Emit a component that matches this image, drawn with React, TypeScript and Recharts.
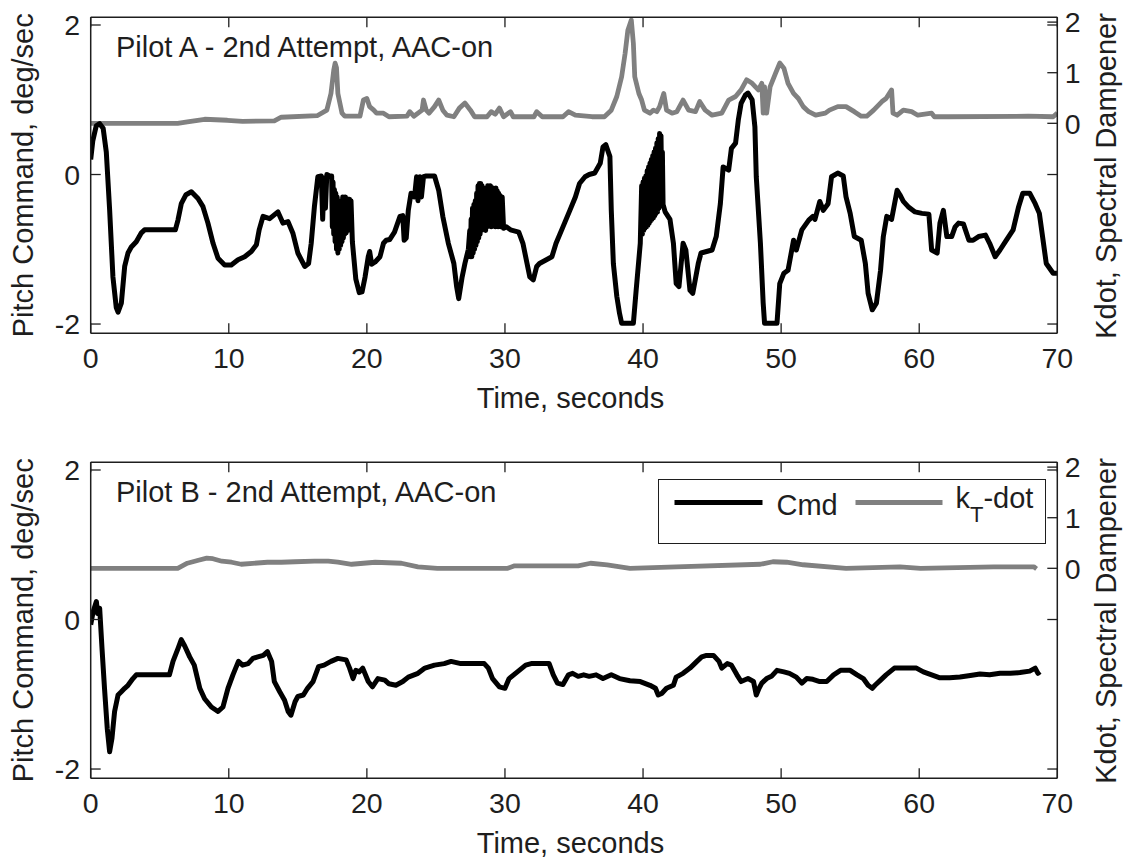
import React from 'react';
import { Legend, Line, LineChart, XAxis, YAxis } from 'recharts';

// [time s, pitch command deg/sec]
const pilotACmd: [number, number][] = [
  [0, 0.2], [0.15, 0.45], [0.4, 0.65], [0.65, 0.68], [0.9, 0.62], [1.13, 0.3], [1.37, -0.47],
  [1.61, -1.37], [1.85, -1.78], [1.98, -1.84], [2.22, -1.72], [2.46, -1.23], [2.7, -1.05],
  [2.94, -0.97], [3.3, -0.9], [3.67, -0.78], [3.9, -0.74], [6.13, -0.74], [6.32, -0.61],
  [6.56, -0.39], [6.9, -0.27], [7.29, -0.23], [7.77, -0.32], [8.13, -0.43], [8.49, -0.65],
  [8.86, -0.92], [9.22, -1.12], [9.7, -1.21], [10.18, -1.21], [10.67, -1.14], [11.15, -1.1],
  [11.63, -1.03], [12.0, -0.94], [12.2, -0.74], [12.48, -0.56], [12.96, -0.59], [13.56, -0.5],
  [13.92, -0.65], [14.29, -0.63], [14.65, -0.79], [15.0, -1.05], [15.5, -1.23], [15.78, -1.19],
  [15.97, -0.92], [16.2, -0.43], [16.45, -0.03], [16.7, -0.02], [16.8, -0.6], [16.9, -0.05],
  [17.0, -0.45], [17.1, 0], [17.3, -0.02], [17.45, -0.02], [17.5, -0.7], [17.55, -0.1],
  [17.6, -0.8], [17.65, -0.2], [17.7, -0.9], [17.75, -0.25], [17.8, -1.0], [17.85, -0.3],
  [17.9, -1.05], [17.95, -0.35], [18.0, -1.0], [18.05, -0.4], [18.1, -0.95], [18.15, -0.35],
  [18.2, -0.9], [18.25, -0.3], [18.3, -0.85], [18.35, -0.3], [18.4, -0.8], [18.45, -0.3],
  [18.5, -0.78], [18.55, -0.32], [18.6, -0.75], [18.65, -0.35], [18.7, -0.72], [18.75, -0.33],
  [18.8, -0.7], [18.85, -0.35], [18.95, -0.9], [19.2, -1.4], [19.45, -1.58], [19.65, -1.57],
  [19.87, -1.37], [20.1, -1.1], [20.2, -1.03], [20.35, -1.2], [20.6, -1.17], [20.95, -1.1],
  [21.2, -0.92], [21.4, -0.88], [21.65, -0.87], [22.0, -0.77], [22.4, -0.56], [22.6, -0.55],
  [22.7, -0.88], [22.85, -0.85], [23.0, -0.48], [23.2, -0.25], [23.45, -0.3], [23.6, -0.03],
  [23.7, -0.35], [23.85, -0.03], [23.95, -0.3], [24.1, -0.03], [24.3, -0.02], [24.9, -0.02],
  [25.2, -0.21], [25.5, -0.56], [25.9, -0.92], [26.3, -1.19], [26.5, -1.5], [26.65, -1.66],
  [26.9, -1.37], [27.1, -1.19], [27.35, -1.0], [27.45, -0.75], [27.5, -1.1], [27.55, -0.6],
  [27.6, -1.1], [27.65, -0.45], [27.7, -1.05], [27.75, -0.4], [27.8, -1.0], [27.85, -0.35],
  [27.9, -0.95], [27.95, -0.25], [28.0, -0.9], [28.05, -0.15], [28.1, -0.85], [28.15, -0.12],
  [28.2, -0.8], [28.25, -0.12], [28.3, -0.75], [28.35, -0.15], [28.4, -0.7], [28.45, -0.2],
  [28.5, -0.72], [28.55, -0.2], [28.6, -0.75], [28.65, -0.18], [28.7, -0.7], [28.75, -0.15],
  [28.8, -0.65], [28.85, -0.15], [28.9, -0.68], [28.95, -0.15], [29.0, -0.7], [29.05, -0.2],
  [29.1, -0.68], [29.15, -0.18], [29.2, -0.65], [29.25, -0.2], [29.3, -0.7], [29.35, -0.18],
  [29.4, -0.68], [29.45, -0.22], [29.5, -0.7], [29.55, -0.25], [29.6, -0.68], [29.65, -0.28],
  [29.7, -0.7], [29.8, -0.3], [29.9, -0.72], [30.1, -0.7], [30.4, -0.74], [31.0, -0.77],
  [31.3, -0.92], [31.6, -1.19], [31.8, -1.37], [32.05, -1.41], [32.3, -1.23], [32.5, -1.19],
  [33.0, -1.14], [33.4, -1.1], [33.7, -0.92], [34.2, -0.7], [34.7, -0.48], [35.1, -0.3],
  [35.4, -0.12], [35.8, -0.03], [36.1, 0], [36.5, 0.02], [36.9, 0.15], [37.1, 0.37],
  [37.3, 0.4], [37.6, 0.24], [37.7, -0.48], [37.85, -1.19], [38.1, -1.63], [38.3, -1.86],
  [38.45, -1.99], [39.3, -1.99], [39.5, -1.55], [39.8, -0.92], [39.9, -0.15], [39.95, -0.8],
  [40.0, -0.1], [40.05, -0.75], [40.1, -0.05], [40.15, -0.72], [40.2, -0.02], [40.25, -0.7],
  [40.3, 0.05], [40.35, -0.68], [40.4, 0.1], [40.45, -0.65], [40.5, 0.15], [40.55, -0.62],
  [40.6, 0.2], [40.65, -0.6], [40.7, 0.25], [40.75, -0.58], [40.8, 0.3], [40.85, -0.55],
  [40.9, 0.35], [40.95, -0.52], [41.0, 0.42], [41.05, -0.5], [41.1, 0.48], [41.15, -0.45],
  [41.2, 0.55], [41.25, -0.3], [41.3, 0.52], [41.35, -0.2], [41.4, 0.3], [41.45, -0.4],
  [41.6, -0.5], [41.95, -0.6], [42.2, -0.92], [42.4, -1.46], [42.6, -1.5], [42.9, -0.92],
  [43.1, -1.01], [43.4, -1.55], [43.6, -1.59], [44.0, -1.19], [44.2, -1.05], [45.0, -1.01],
  [45.3, -0.83], [45.6, -0.39], [45.8, 0.1], [46.2, 0.06], [46.4, 0.35], [46.7, 0.42],
  [46.9, 0.73], [47.1, 0.95], [47.4, 1.06], [47.6, 1.09], [47.9, 1.0], [48.1, 0.64],
  [48.2, -0.03], [48.5, -0.92], [48.7, -1.72], [48.8, -1.99], [49.7, -1.99], [49.9, -1.46],
  [50.2, -1.32], [50.5, -1.28], [50.9, -0.88], [51.1, -1.01], [51.5, -0.74], [52.0, -0.61],
  [52.3, -0.56], [52.45, -0.6], [52.8, -0.36], [53.05, -0.48], [53.4, -0.39], [53.65, -0.03],
  [54.1, 0.02], [54.5, -0.02], [54.7, -0.3], [55.0, -0.52], [55.3, -0.83], [55.8, -0.88],
  [56.1, -1.19], [56.3, -1.59], [56.6, -1.81], [56.9, -1.72], [57.2, -1.28], [57.4, -0.83],
  [57.65, -0.56], [58.0, -0.6], [58.4, -0.21], [58.6, -0.27], [58.85, -0.36], [59.2, -0.43],
  [59.7, -0.5], [60.2, -0.52], [60.7, -0.53], [60.9, -1.01], [61.3, -1.05], [61.5, -0.65],
  [61.75, -0.48], [62.0, -0.83], [62.35, -0.83], [62.6, -0.7], [62.85, -0.65], [63.2, -0.66],
  [63.6, -0.88], [63.9, -0.88], [64.3, -0.83], [64.8, -0.81], [65.1, -0.92], [65.5, -1.1],
  [65.85, -1.01], [66.3, -0.88], [66.8, -0.74], [67.2, -0.43], [67.5, -0.25], [68.0, -0.25],
  [68.4, -0.39], [68.7, -0.52], [69.0, -0.92], [69.2, -1.19], [69.7, -1.32], [70.0, -1.32],
];

// [time s, kdot]
const pilotAKdot: [number, number][] = [
  [0, 0], [6.3, 0], [7.0, 0.03], [8.25, 0.08], [9.9, 0.06], [11.0, 0.04], [13.3, 0.05],
  [13.8, 0.12], [16.4, 0.15], [17.1, 0.26], [17.4, 0.59], [17.6, 1.05], [17.7, 1.19],
  [17.8, 1.1], [17.9, 0.59], [18.2, 0.2], [18.4, 0.14], [19.5, 0.14], [19.75, 0.46],
  [20.0, 0.49], [20.2, 0.33], [20.5, 0.26], [20.7, 0.2], [21.2, 0.2], [21.6, 0.13],
  [22.9, 0.14], [23.1, 0.23], [23.4, 0.14], [24.0, 0.26], [24.1, 0.46], [24.3, 0.26],
  [24.5, 0.2], [24.9, 0.33], [25.2, 0.46], [25.5, 0.26], [25.8, 0.16], [26.3, 0.13],
  [26.7, 0.3], [27.1, 0.4], [27.5, 0.26], [27.8, 0.13], [28.7, 0.13], [29.0, 0.23],
  [29.3, 0.18], [29.6, 0.3], [29.9, 0.13], [30.4, 0.23], [30.6, 0.13], [32.1, 0.13],
  [32.3, 0.23], [32.7, 0.13], [34.2, 0.13], [34.6, 0.23], [35.1, 0.16], [36.3, 0.13],
  [37.2, 0.13], [37.7, 0.26], [38.1, 0.53], [38.45, 0.92], [38.7, 1.38], [38.9, 1.84],
  [39.15, 2.04], [39.3, 1.58], [39.4, 0.92], [39.7, 0.59], [39.9, 0.46], [40.1, 0.26],
  [40.5, 0.2], [40.75, 0.26], [41.0, 0.23], [41.2, 0.33], [41.5, 0.59], [41.7, 0.26],
  [42.1, 0.2], [42.45, 0.23], [42.9, 0.46], [43.3, 0.26], [43.8, 0.23], [44.1, 0.43],
  [44.5, 0.26], [45.0, 0.16], [45.7, 0.2], [46.2, 0.46], [46.7, 0.53], [47.1, 0.66],
  [47.5, 0.86], [47.9, 0.79], [48.35, 0.66], [48.6, 0.79], [48.7, 0.2], [48.8, 0.72],
  [48.95, 0.2], [49.2, 0.72], [49.6, 0.99], [49.9, 1.19], [50.2, 1.09], [50.5, 0.79],
  [50.9, 0.59], [51.25, 0.49], [51.6, 0.33], [52.0, 0.23], [52.5, 0.16], [53.2, 0.2],
  [53.5, 0.26], [54.1, 0.33], [54.7, 0.33], [55.3, 0.23], [55.8, 0.14], [56.2, 0.14],
  [56.7, 0.26], [57.3, 0.43], [57.6, 0.49], [58.0, 0.66], [58.1, 0.2], [58.4, 0.16],
  [58.85, 0.26], [59.45, 0.23], [59.9, 0.16], [60.9, 0.2], [61.1, 0.13], [62.1, 0.13],
  [67.9, 0.14], [69.7, 0.13], [70.0, 0.2],
];

const pilotBCmd: [number, number][] = [
  [0, -0.07], [0.17, 0.1], [0.41, 0.24], [0.5, 0.08], [0.65, 0.15], [0.82, -0.39], [1.0, -0.92],
  [1.2, -1.46], [1.37, -1.77], [1.54, -1.59], [1.73, -1.23], [1.98, -1.01], [2.2, -0.97],
  [2.46, -0.92], [2.7, -0.88], [3.06, -0.79], [3.3, -0.74], [5.7, -0.74], [5.96, -0.56],
  [6.32, -0.39], [6.56, -0.27], [6.8, -0.35], [7.17, -0.5], [7.5, -0.61], [7.9, -0.92],
  [8.25, -1.06], [8.74, -1.17], [9.22, -1.23], [9.58, -1.17], [9.94, -0.92], [10.3, -0.74],
  [10.7, -0.56], [11.0, -0.61], [11.4, -0.59], [11.75, -0.52], [12.1, -0.5], [12.5, -0.48],
  [12.8, -0.43], [13.1, -0.56], [13.3, -0.83], [13.7, -0.97], [14.04, -1.08], [14.3, -1.23],
  [14.5, -1.28], [14.8, -1.1], [15.0, -1.03], [15.4, -1.01], [15.7, -0.92], [16.1, -0.83],
  [16.5, -0.63], [16.9, -0.61], [17.4, -0.56], [17.9, -0.52], [18.5, -0.54], [18.75, -0.65],
  [19.0, -0.79], [19.2, -0.68], [19.45, -0.7], [19.7, -0.65], [20.1, -0.83], [20.4, -0.9],
  [20.8, -0.79], [21.3, -0.81], [21.6, -0.86], [22.1, -0.88], [22.6, -0.83], [23.0, -0.77],
  [23.7, -0.72], [24.2, -0.65], [24.9, -0.61], [25.6, -0.59], [26.1, -0.56], [26.8, -0.59],
  [27.6, -0.59], [28.5, -0.59], [28.8, -0.65], [29.1, -0.79], [29.6, -0.9], [30.0, -0.92],
  [30.3, -0.79], [30.9, -0.7], [31.5, -0.61], [31.9, -0.59], [33.2, -0.59], [33.5, -0.74],
  [33.8, -0.85], [34.2, -0.87], [34.6, -0.74], [34.9, -0.72], [35.3, -0.76], [35.7, -0.74],
  [36.1, -0.76], [36.6, -0.74], [37.1, -0.79], [37.7, -0.74], [38.3, -0.79], [39.05, -0.82],
  [39.8, -0.83], [40.5, -0.88], [40.9, -0.92], [41.1, -1.01], [41.35, -0.99], [41.7, -0.92],
  [42.2, -0.88], [42.4, -0.77], [42.9, -0.72], [43.4, -0.65], [43.9, -0.56], [44.25, -0.5],
  [44.6, -0.48], [45.1, -0.48], [45.5, -0.56], [45.7, -0.65], [46.1, -0.59], [46.4, -0.61],
  [46.8, -0.74], [47.1, -0.83], [47.6, -0.79], [48.0, -0.83], [48.2, -1.01], [48.4, -0.92],
  [48.6, -0.85], [48.95, -0.79], [49.3, -0.76], [49.7, -0.68], [50.2, -0.7], [50.6, -0.72],
  [51.1, -0.77], [51.5, -0.85], [51.85, -0.79], [52.3, -0.8], [52.8, -0.83], [53.3, -0.83],
  [53.8, -0.74], [54.3, -0.68], [55.0, -0.68], [55.5, -0.74], [55.95, -0.79], [56.3, -0.88],
  [56.6, -0.92], [56.8, -0.88], [57.2, -0.81], [57.6, -0.74], [58.2, -0.65], [58.85, -0.65],
  [59.8, -0.65], [60.3, -0.7], [60.9, -0.74], [61.5, -0.78], [62.2, -0.78], [62.95, -0.77],
  [63.7, -0.75], [64.4, -0.73], [65.1, -0.74], [65.85, -0.72], [66.6, -0.72], [67.3, -0.71],
  [68.0, -0.69], [68.4, -0.65], [68.6, -0.72], [68.75, -0.7],
];

const pilotBKdot: [number, number][] = [
  [0, 0], [6.3, 0], [7.0, 0.1], [7.8, 0.16], [8.4, 0.2], [8.85, 0.19], [9.5, 0.14],
  [10.2, 0.12], [10.9, 0.08], [12.8, 0.12], [13.8, 0.12], [14.8, 0.13], [16.2, 0.14],
  [17.2, 0.14], [17.9, 0.12], [18.9, 0.08], [20.6, 0.12], [22.5, 0.1], [23.7, 0.03],
  [25.1, 0], [30.2, 0], [30.7, 0.05], [35.3, 0.05], [36.2, 0.1], [37.4, 0.07], [39.05, 0],
  [42.4, 0.03], [48.5, 0.08], [49.4, 0.13], [50.4, 0.12], [51.6, 0.07], [54.7, 0],
  [58.6, 0.03], [60.1, 0], [65.4, 0.03], [68.3, 0.03], [68.5, -0.01],
];

const timeTicks = [0, 10, 20, 30, 40, 50, 60, 70];
const cmdTicks = [-2, 0, 2];
const kdotTicks = [0, 1, 2];

const FONT = '"Liberation Sans", Arial, Helvetica, sans-serif';
const INK = '#1e1e1e';
const W = 1129;
const H = 413;
const PLOT_LEFT = 90.7;
const PLOT_RIGHT = 1057.3;
const PLOT_TOP = 17.3;
const PLOT_BOTTOM = 333.3;
const PLOT_W = PLOT_RIGHT - PLOT_LEFT;
const PLOT_H = PLOT_BOTTOM - PLOT_TOP;
const TICK = 10;
const TICK_FONT = 28.5;

const toPoints = (rows: [number, number][]) => rows.map(([t, v]) => ({ t, v }));

const XTick = (props: any) => {
  const { x, y, payload } = props;
  return (
    <g>
      <line x1={x} y1={y} x2={x} y2={y - TICK} stroke={INK} strokeWidth={1.3} />
      <line x1={x} y1={y - PLOT_H} x2={x} y2={y - PLOT_H + TICK} stroke={INK} strokeWidth={1.3} />
      <text x={x} y={y + 34.7} textAnchor="middle" fontFamily={FONT} fontSize={TICK_FONT} fill={INK}>
        {payload.value}
      </text>
    </g>
  );
};

const LeftTick = (props: any) => {
  const { x, y, payload } = props;
  return (
    <g>
      <line x1={x} y1={y} x2={x + TICK} y2={y} stroke={INK} strokeWidth={1.3} />
      <line x1={x + PLOT_W} y1={y} x2={x + PLOT_W - TICK} y2={y} stroke={INK} strokeWidth={1.3} />
      <text x={x - 10.5} y={y + 10.3} textAnchor="end" fontFamily={FONT} fontSize={TICK_FONT} fill={INK}>
        {payload.value}
      </text>
    </g>
  );
};

const RightTick = (props: any) => {
  const { x, y, payload } = props;
  return (
    <g>
      <line x1={x} y1={y} x2={x - TICK} y2={y} stroke={INK} strokeWidth={1.3} />
      <text x={x + 7.5} y={y + 10.3} textAnchor="start" fontFamily={FONT} fontSize={TICK_FONT} fill={INK}>
        {payload.value}
      </text>
    </g>
  );
};

const LegendBox = () => (
  <div
    style={{
      width: 388,
      height: 65,
      boxSizing: 'border-box',
      border: `1.5px solid ${INK}`,
      background: '#fff',
    }}
  >
    <svg width={385} height={62} style={{ display: 'block' }}>
      <line x1={15.5} y1={22.5} x2={103.5} y2={22.5} stroke="#000" strokeWidth={5} />
      <text x={117.5} y={34.5} fontFamily={FONT} fontSize={29} fill={INK}>
        Cmd
      </text>
      <line x1={196.5} y1={22.5} x2={283.5} y2={22.5} stroke="#808080" strokeWidth={5} />
      <text x={296.5} y={27.5} fontFamily={FONT} fontSize={29} fill={INK}>
        k
        <tspan fontSize={22} dy={14}>
          T
        </tspan>
        <tspan dy={-14}>-dot</tspan>
      </text>
    </svg>
  </div>
);

interface PanelProps {
  cmd: [number, number][];
  kdot: [number, number][];
  showLegend?: boolean;
}

function Panel({ cmd, kdot, showLegend }: PanelProps) {
  const axisLine = { stroke: INK, strokeWidth: 1.5 };
  return (
    <LineChart width={W} height={H} margin={{ top: 0, right: 0, bottom: 0, left: 0 }}>
      <XAxis
        xAxisId="t"
        dataKey="t"
        type="number"
        domain={[0, 70]}
        allowDataOverflow
        ticks={timeTicks}
        interval={0}
        height={H - PLOT_BOTTOM}
        tickSize={0}
        tickMargin={0}
        tickLine={false}
        axisLine={axisLine}
        tick={XTick}
      />
      <XAxis
        xAxisId="top"
        orientation="top"
        type="number"
        domain={[0, 70]}
        height={PLOT_TOP}
        tick={false}
        tickLine={false}
        axisLine={axisLine}
      />
      <YAxis
        yAxisId="cmd"
        type="number"
        domain={[-2.124, 2.103]}
        allowDataOverflow
        ticks={cmdTicks}
        interval={0}
        width={PLOT_LEFT}
        tickSize={0}
        tickMargin={0}
        tickLine={false}
        axisLine={axisLine}
        tick={LeftTick}
      />
      <YAxis
        yAxisId="kdot"
        orientation="right"
        type="number"
        domain={[-4.15, 2.095]}
        allowDataOverflow
        ticks={kdotTicks}
        interval={0}
        width={W - PLOT_RIGHT}
        tickSize={0}
        tickMargin={0}
        tickLine={false}
        axisLine={axisLine}
        tick={RightTick}
      />
      <Line
        xAxisId="t"
        yAxisId="kdot"
        data={toPoints(kdot)}
        dataKey="v"
        name="kT-dot"
        stroke="#808080"
        strokeWidth={4.8}
        strokeLinejoin="round"
        dot={false}
        activeDot={false}
        isAnimationActive={false}
      />
      <Line
        xAxisId="t"
        yAxisId="cmd"
        data={toPoints(cmd)}
        dataKey="v"
        name="Cmd"
        stroke="#000"
        strokeWidth={5}
        strokeLinejoin="round"
        dot={false}
        activeDot={false}
        isAnimationActive={false}
      />
      {showLegend && (
        <Legend
          layout="horizontal"
          verticalAlign="middle"
          align="center"
          content={LegendBox}
          wrapperStyle={{ position: 'absolute', left: 658, top: 34, width: 388, height: 65 }}
        />
      )}
    </LineChart>
  );
}

const panelTitles = ['Pilot A - 2nd Attempt, AAC-on', 'Pilot B - 2nd Attempt, AAC-on'];
const PANEL_OFFSET = 445;

export default function App() {
  const textStyle = { fontFamily: FONT, fontSize: 29, fill: INK };
  return (
    <div
      style={{
        position: 'absolute',
        left: 0,
        top: 0,
        width: W,
        height: 858,
        overflow: 'hidden',
        background: '#fff',
      }}
    >
      <div style={{ position: 'absolute', left: 0, top: 0 }}>
        <Panel cmd={pilotACmd} kdot={pilotAKdot} />
      </div>
      <div style={{ position: 'absolute', left: 0, top: PANEL_OFFSET }}>
        <Panel cmd={pilotBCmd} kdot={pilotBKdot} showLegend />
      </div>
      <svg
        width={W}
        height={858}
        style={{ position: 'absolute', left: 0, top: 0, pointerEvents: 'none' }}
      >
        {panelTitles.map((title, i) => {
          const dy = i * PANEL_OFFSET;
          return (
            <g key={title}>
              <text x={116} y={56.5 + dy} {...textStyle}>
                {title}
              </text>
              <text x={570.5} y={408 + dy} textAnchor="middle" {...textStyle}>
                Time, seconds
              </text>
              <text
                transform={`translate(33, ${175.3 + dy}) rotate(-90)`}
                textAnchor="middle"
                {...textStyle}
              >
                Pitch Command, deg/sec
              </text>
              <text
                transform={`translate(1116, ${176 + dy}) rotate(-90)`}
                textAnchor="middle"
                {...textStyle}
              >
                Kdot, Spectral Dampener
              </text>
            </g>
          );
        })}
      </svg>
    </div>
  );
}
